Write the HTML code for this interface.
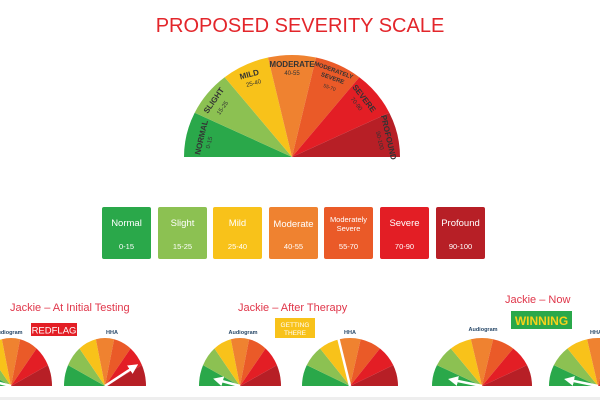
<!DOCTYPE html>
<html><head><meta charset="utf-8"><style>
body{margin:0;width:600px;height:400px;background:#fff;overflow:hidden;font-family:"Liberation Sans",sans-serif}
</style></head><body>
<svg width="600" height="400" xmlns="http://www.w3.org/2000/svg" font-family="Liberation Sans, sans-serif">
<defs>
<g id="g">
<path d="M0 0 L-1 0 A1 1 0 0 1 -0.901 -0.4339 Z" fill="#2aa84a"/>
<path d="M0 0 L-0.901 -0.4339 A1 1 0 0 1 -0.6235 -0.7818 Z" fill="#8cc152"/>
<path d="M0 0 L-0.6235 -0.7818 A1 1 0 0 1 -0.2225 -0.9749 Z" fill="#f8c21a"/>
<path d="M0 0 L-0.2225 -0.9749 A1 1 0 0 1 0.2225 -0.9749 Z" fill="#ef8230"/>
<path d="M0 0 L0.2225 -0.9749 A1 1 0 0 1 0.6235 -0.7818 Z" fill="#ea5a28"/>
<path d="M0 0 L0.6235 -0.7818 A1 1 0 0 1 0.901 -0.4339 Z" fill="#e31e25"/>
<path d="M0 0 L0.901 -0.4339 A1 1 0 0 1 1 0 Z" fill="#b71f26"/>
</g>
<marker id="ah" markerWidth="4" markerHeight="4" refX="2" refY="2" orient="auto"><path d="M0 0 L4 2 L0 4 Z" fill="#fff"/></marker>
</defs>
<text x="300" y="32" text-anchor="middle" font-size="20" fill="#e3262b">PROPOSED SEVERITY SCALE</text>
<use href="#g" transform="translate(292,157) scale(108,102)"/>
<g font-weight="bold" font-size="8" fill="#333" text-anchor="middle">
<text transform="translate(204,138) rotate(-77)">NORMAL</text>
<text transform="translate(216,102) rotate(-55)">SLIGHT</text>
<text transform="translate(250,77) rotate(-15)">MILD</text>
<text x="292" y="67">MODERATE</text>
<text transform="translate(333,72) rotate(20)" font-size="6">MODERATELY</text>
<text transform="translate(332,80) rotate(20)" font-size="6">SEVERE</text>
<text transform="translate(362,100) rotate(52)">SEVERE</text>
<text transform="translate(386,138) rotate(77)">PROFOUND</text>
</g>
<g font-size="6" fill="#333" text-anchor="middle">
<text transform="translate(211,143) rotate(-77)">0-15</text>
<text transform="translate(224,109) rotate(-55)">15-25</text>
<text transform="translate(254,85) rotate(-15)">25-40</text>
<text x="292" y="75">40-55</text>
<text transform="translate(329,89) rotate(20)" font-size="5">55-70</text>
<text transform="translate(355,105) rotate(52)">70-90</text>
<text transform="translate(378,141) rotate(77)">90-100</text>
</g>
<g font-size="9.5" fill="#fff" text-anchor="middle">
<rect x="102" y="207" width="49" height="52" rx="2" fill="#2aa84a"/>
<rect x="158" y="207" width="49" height="52" rx="2" fill="#8cc152"/>
<rect x="213" y="207" width="49" height="52" rx="2" fill="#f8c21a"/>
<rect x="269" y="207" width="49" height="52" rx="2" fill="#ef8230"/>
<rect x="324" y="207" width="49" height="52" rx="2" fill="#ea5a28"/>
<rect x="380" y="207" width="49" height="52" rx="2" fill="#e31e25"/>
<rect x="436" y="207" width="49" height="52" rx="2" fill="#b71f26"/>
<text x="126.5" y="226">Normal</text><text x="182.5" y="226">Slight</text><text x="237.5" y="226">Mild</text><text x="293.5" y="227">Moderate</text>
<text x="348.5" y="222" font-size="7.5">Moderately</text><text x="348.5" y="231" font-size="7.5">Severe</text>
<text x="404.5" y="226">Severe</text><text x="460.5" y="226">Profound</text>
<g font-size="7.5"><text x="126.5" y="249">0-15</text><text x="182.5" y="249">15-25</text><text x="237.5" y="249">25-40</text><text x="293.5" y="249">40-55</text><text x="348.5" y="249">55-70</text><text x="404.5" y="249">70-90</text><text x="460.5" y="249">90-100</text></g>
</g>
<g font-size="11" fill="#e0364a">
<text x="10" y="311">Jackie – At Initial Testing</text>
<text x="238" y="311">Jackie – After Therapy</text>
<text x="505" y="303">Jackie – Now</text>
</g>
<rect x="31" y="323" width="46" height="13" fill="#e31e25"/><text x="54" y="333.5" text-anchor="middle" font-size="9.5" fill="#fff">REDFLAG</text>
<rect x="275" y="318" width="40" height="20" fill="#f8c21a"/><text x="295" y="327" text-anchor="middle" font-size="6.5" fill="#fff">GETTING</text><text x="295" y="335" text-anchor="middle" font-size="6.5" fill="#fff">THERE</text>
<rect x="511" y="311" width="61" height="18" fill="#2aa84a"/><text x="541.5" y="325" text-anchor="middle" font-size="12" font-weight="bold" fill="#f8d21a">WINNING</text>
<g font-size="5.5" font-weight="bold" fill="#2a4a6a" text-anchor="middle">
<text x="8" y="334">Audiogram</text><text x="112" y="334">HHA</text>
<text x="243" y="334">Audiogram</text><text x="350" y="334">HHA</text>
<text x="483" y="331">Audiogram</text><text x="596" y="334">HHA</text>
</g>
<use href="#g" transform="translate(11,386) scale(41,48)"/>
<use href="#g" transform="translate(105,386) scale(41,48)"/>
<use href="#g" transform="translate(240,386) scale(41,48)"/>
<use href="#g" transform="translate(350,386) scale(48,48)"/>
<use href="#g" transform="translate(482,386) scale(50,48)"/>
<use href="#g" transform="translate(598,386) scale(49,48)"/>
<g stroke="#fff" stroke-width="2.5" marker-end="url(#ah)">
<line x1="11" y1="386" x2="-20" y2="378"/>
<line x1="105" y1="386" x2="134" y2="367"/>
<line x1="240" y1="386" x2="218" y2="380"/>
<line x1="350" y1="386" x2="337" y2="333"/>
<line x1="482" y1="386" x2="453" y2="380"/>
<line x1="598" y1="386" x2="569" y2="380"/>
</g>
<rect x="0" y="397" width="600" height="3" fill="#eee"/>
</svg>
</body></html>
